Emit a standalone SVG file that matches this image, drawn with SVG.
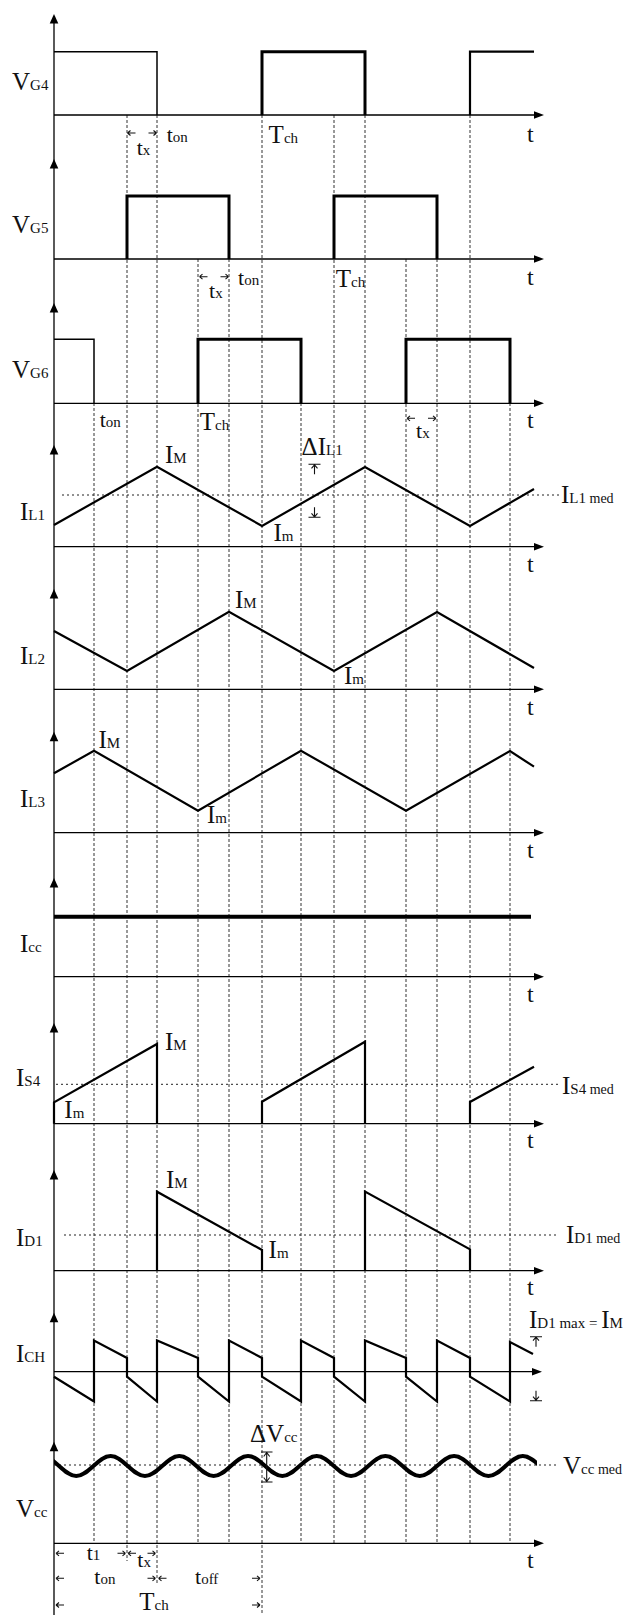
<svg xmlns="http://www.w3.org/2000/svg" xmlns:xlink="http://www.w3.org/1999/xlink" width="628" height="1615" viewBox="0 0 628 1615">
<style>
text{font-family:"Liberation Serif","Times New Roman",serif;fill:#111}
.L{font-size:25px}
.s{font-size:15px}
.s2{font-size:14px}
.tt{font-size:24px}
.tl{font-size:22px}
.ax{stroke:#000;stroke-width:1.3;fill:none}
.ah{fill:#000;stroke:none}
.g{stroke:#333;stroke-width:1;stroke-dasharray:3 2;fill:none}
.dot{stroke:#222;stroke-width:1;stroke-dasharray:2 3;fill:none}
.w1{stroke:#000;stroke-width:1.5;fill:none}
.w2{stroke:#000;stroke-width:2.2;fill:none;stroke-linejoin:miter}
.w3{stroke:#000;stroke-width:3;fill:none;stroke-linejoin:miter}
.w4{stroke:#000;stroke-width:4;fill:none}
.sm{stroke:#111;stroke-width:1.1;fill:none}
</style>
<defs>
<path id="ahU" d="M0,0 L-4.3,9.5 L4.3,9.5 Z"/>
<path id="ahR" d="M0,0 L-10,-3.8 L-10,3.8 Z"/>
<path id="sL" d="M0,0 H8 M0,0 L3,-2.5 M0,0 L3,2.5"/>
<path id="sR" d="M0,0 H-8 M0,0 L-3,-2.5 M0,0 L-3,2.5"/>
<path id="mU" d="M-6,0 H6 M0,0.5 V10 M0,0.5 L-3,4 M0,0.5 L3,4"/>
<path id="mD" d="M-6,0 H6 M0,-0.5 V-10 M0,-0.5 L-3,-4 M0,-0.5 L3,-4"/>
<clipPath id="vclip"><rect x="54" y="1440" width="483" height="50"/></clipPath>
</defs>
<rect width="628" height="1615" fill="#fff"/>

<g id="connectors">
<path class="g" d="M94,403V1543 M127,115V1561 M157,115V1584 M198,259V1543 M229,259V1543 M262,115V1615 M301,403V1543 M334,115V1543 M365,115V1543 M406,259V1543 M437,259V1543 M470,115V1543 M510,403V1543"/>
</g>

<g id="axes">
<line class="ax" x1="54" y1="16" x2="54" y2="1615"/>
<path class="ax" d="M54,115H536 M54,259H536 M54,403.3H536 M54,546.7H536 M54,689.3H536 M54,832.7H536 M54,976.7H536 M54,1123.7H536 M54,1270.7H536 M54,1371.7H534 M54,1543.3H536"/>
<g class="ah">
<use xlink:href="#ahU" x="54" y="14"/>
<use xlink:href="#ahU" x="54" y="159"/>
<use xlink:href="#ahU" x="54" y="303"/>
<use xlink:href="#ahU" x="54" y="445"/>
<use xlink:href="#ahU" x="54" y="589"/>
<use xlink:href="#ahU" x="54" y="731.7"/>
<use xlink:href="#ahU" x="54" y="878"/>
<use xlink:href="#ahU" x="54" y="1023"/>
<use xlink:href="#ahU" x="54" y="1170"/>
<use xlink:href="#ahU" x="54" y="1312.7"/>
<use xlink:href="#ahU" x="54" y="1441.7"/>
<use xlink:href="#ahR" x="544" y="115"/>
<use xlink:href="#ahR" x="544" y="259"/>
<use xlink:href="#ahR" x="544" y="403.3"/>
<use xlink:href="#ahR" x="544" y="546.7"/>
<use xlink:href="#ahR" x="544" y="689.3"/>
<use xlink:href="#ahR" x="544" y="832.7"/>
<use xlink:href="#ahR" x="544" y="976.7"/>
<use xlink:href="#ahR" x="544" y="1123.7"/>
<use xlink:href="#ahR" x="544" y="1270.7"/>
<use xlink:href="#ahR" x="542" y="1371.7"/>
<use xlink:href="#ahR" x="544" y="1543.3"/>
</g>
<g>
<text class="tt" x="527" y="141.7">t</text>
<text class="tt" x="527" y="285">t</text>
<text class="tt" x="527" y="428">t</text>
<text class="tt" x="527" y="571.7">t</text>
<text class="tt" x="527" y="715">t</text>
<text class="tt" x="527" y="858">t</text>
<text class="tt" x="527" y="1001.7">t</text>
<text class="tt" x="527" y="1148.3">t</text>
<text class="tt" x="527" y="1295">t</text>
<text class="tt" x="527" y="1568">t</text>
</g>
</g>

<g id="VG4">
<path class="w1" d="M54,51.7H157V115"/>
<path class="w3" d="M262,115V51.7H365V115"/>
<path class="w2" d="M470,115V51.7H534"/>
<text class="L" x="12" y="90">V<tspan class="s">G4</tspan></text>
<g class="sm"><use xlink:href="#sL" x="127.5" y="133"/><use xlink:href="#sR" x="156.5" y="133"/></g>
<text class="tl" x="136.7" y="155">t<tspan class="s">x</tspan></text>
<text class="tl" x="166.7" y="141.7">t<tspan class="s">on</tspan></text>
<text class="L" x="268.6" y="143.3">T<tspan class="s">ch</tspan></text>
</g>

<g id="VG5">
<path class="w3" d="M127,259V196H229V259"/>
<path class="w3" d="M334,259V196H437V259"/>
<text class="L" x="12" y="233">V<tspan class="s">G5</tspan></text>
<g class="sm"><use xlink:href="#sL" x="199.5" y="276.7"/><use xlink:href="#sR" x="228.5" y="276.7"/></g>
<text class="tl" x="209" y="298">t<tspan class="s">x</tspan></text>
<text class="tl" x="238" y="285">t<tspan class="s">on</tspan></text>
<text class="L" x="335.7" y="286.7">T<tspan class="s">ch</tspan></text>
</g>

<g id="VG6">
<path class="w1" d="M54,339.3H94V403.3"/>
<path class="w3" d="M198,403.3V339.3H301V403.3"/>
<path class="w3" d="M406,403.3V339.3H510V403.3"/>
<text class="L" x="12" y="378">V<tspan class="s">G6</tspan></text>
<text class="tl" x="99.7" y="426.7">t<tspan class="s">on</tspan></text>
<text class="L" x="199.8" y="430">T<tspan class="s">ch</tspan></text>
<g class="sm"><use xlink:href="#sL" x="407" y="418.3"/><use xlink:href="#sR" x="436" y="418.3"/></g>
<text class="tl" x="416" y="438.3">t<tspan class="s">x</tspan></text>
</g>

<g id="IL1">
<path class="dot" d="M62,495H559"/>
<path class="w2" d="M54,525L157,466.7L262,526L365,467L470,526L534,489"/>
<text class="L" x="20" y="520">I<tspan class="s">L1</tspan></text>
<text class="L" x="165" y="462.7">I<tspan class="s">M</tspan></text>
<text class="L" x="273.4" y="540.7">I<tspan class="s">m</tspan></text>
<text class="L" x="301.6" y="455">ΔI<tspan class="s">L1</tspan></text>
<g class="sm"><use xlink:href="#mU" x="314.5" y="464.3"/><use xlink:href="#mD" x="314.5" y="517.3"/></g>
<text class="L" x="561" y="502.7">I<tspan class="s">L1</tspan><tspan class="s2"> med</tspan></text>
</g>

<g id="IL2">
<path class="w2" d="M54,631L127,671L229,611.7L334,671L437,612L534,668"/>
<text class="L" x="20" y="664">I<tspan class="s">L2</tspan></text>
<text class="L" x="235" y="608.3">I<tspan class="s">M</tspan></text>
<text class="L" x="344" y="684">I<tspan class="s">m</tspan></text>
</g>

<g id="IL3">
<path class="w2" d="M54,773.3L94,750.7L198,810.7L301,750.7L406,810.7L510,751L534,766.7"/>
<text class="L" x="20" y="806.7">I<tspan class="s">L3</tspan></text>
<text class="L" x="98.5" y="748.3">I<tspan class="s">M</tspan></text>
<text class="L" x="207" y="823.3">I<tspan class="s">m</tspan></text>
</g>

<g id="Icc">
<path class="w4" d="M54,916.7H531"/>
<text class="L" x="20" y="951.7">I<tspan class="s">cc</tspan></text>
</g>

<g id="IS4">
<path class="dot" d="M56,1084.3H559"/>
<path class="w2" d="M54,1123.7V1102.3L157,1044V1123.7 M262,1123.7V1101.7L365,1041.7V1123.7 M470,1123.7V1102L534,1066.7"/>
<text class="L" x="16" y="1086">I<tspan class="s">S4</tspan></text>
<text class="L" x="165" y="1050">I<tspan class="s">M</tspan></text>
<text class="L" x="64.3" y="1118.3">I<tspan class="s">m</tspan></text>
<text class="L" x="562" y="1094">I<tspan class="s">S4</tspan><tspan class="s2"> med</tspan></text>
</g>

<g id="ID1">
<path class="dot" d="M64,1235H559"/>
<path class="w2" d="M157,1270.7V1191.7L262,1250V1270.7 M365,1270.7V1191.5L470,1249.3V1270.7"/>
<text class="L" x="16" y="1246">I<tspan class="s">D1</tspan></text>
<text class="L" x="166" y="1188.3">I<tspan class="s">M</tspan></text>
<text class="L" x="268.6" y="1258.3">I<tspan class="s">m</tspan></text>
<text class="L" x="566" y="1243.3">I<tspan class="s">D1</tspan><tspan class="s2"> med</tspan></text>
</g>

<g id="ICH">
<path class="w2" d="M54,1376.7L94,1401.5V1340.5L127,1358V1376.7L157,1401.5V1340.5L198,1358V1376.7L229,1401.5V1340.5L262,1358V1376.7L301,1401.5V1340.5L334,1358V1376.7L365,1401.5V1340.5L406,1358V1376.7L437,1401.5V1340.5L470,1358V1376.7L510,1401.5V1342L533,1354"/>
<text class="L" x="16" y="1361.7">I<tspan class="s">CH</tspan></text>
<text class="L" x="529" y="1328">I<tspan class="s">D1 max = </tspan>I<tspan class="s">M</tspan></text>
<g class="sm"><use xlink:href="#mU" x="536" y="1336.7"/><use xlink:href="#mD" x="536" y="1400.7"/></g>
</g>

<g id="Vcc">
<path class="dot" d="M54,1465H559"/>
<path class="w4" clip-path="url(#vclip)" stroke-width="4.5" d="M41.9,1456 C54.38,1456 63.77,1476 76.25,1476 S98.12,1456 110.6,1456 S132.47,1476 144.95,1476 S166.82,1456 179.3,1456 S201.17,1476 213.65,1476 S235.52,1456 248,1456 S269.87,1476 282.35,1476 S304.22,1456 316.7,1456 S338.57,1476 351.05,1476 S372.92,1456 385.4,1456 S407.27,1476 419.75,1476 S441.62,1456 454.1,1456 S475.97,1476 488.45,1476 S510.32,1456 522.8,1456 S544.67,1476 557.15,1476"/>
<text class="L" x="16" y="1516.7">V<tspan class="s">cc</tspan></text>
<text class="L" x="250" y="1442.3">ΔV<tspan class="s">cc</tspan></text>
<path class="sm" d="M261,1452H272.5 M261,1482H272.5 M266.7,1452.5V1481.5 M266.7,1452.5L263.7,1456.5 M266.7,1452.5L269.7,1456.5 M266.7,1481.5L263.7,1477.5 M266.7,1481.5L269.7,1477.5"/>
<text class="L" x="563" y="1474">V<tspan class="s">cc</tspan><tspan class="s2"> med</tspan></text>
</g>

<g id="dimensions">
<g class="sm">
<use xlink:href="#sL" x="56" y="1553.3"/><use xlink:href="#sR" x="125.5" y="1553.3"/>
<use xlink:href="#sL" x="128" y="1553.3"/><use xlink:href="#sR" x="155.5" y="1553.3"/>
<use xlink:href="#sL" x="56" y="1578.3"/><use xlink:href="#sR" x="155.5" y="1578.3"/>
<use xlink:href="#sL" x="158.5" y="1578.3"/><use xlink:href="#sR" x="260" y="1578.3"/>
<use xlink:href="#sL" x="56" y="1605"/><use xlink:href="#sR" x="260" y="1605"/>
</g>
<text class="tl" x="86.7" y="1560">t<tspan class="s">1</tspan></text>
<text class="tl" x="137.3" y="1566.7">t<tspan class="s">x</tspan></text>
<text class="tl" x="94.3" y="1584.3">t<tspan class="s">on</tspan></text>
<text class="tl" x="195" y="1584.3">t<tspan class="s">off</tspan></text>
<text class="L" x="139.3" y="1610">T<tspan class="s">ch</tspan></text>
</g>
</svg>
